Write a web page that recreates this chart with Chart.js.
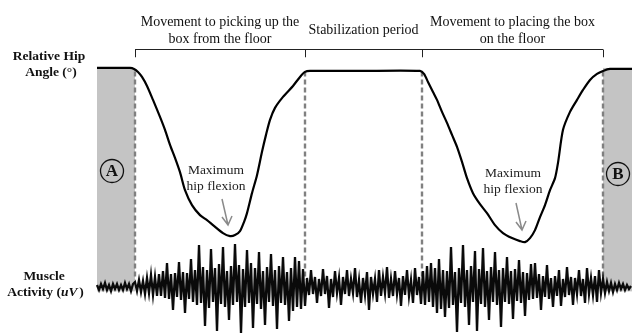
<!DOCTYPE html>
<html>
<head>
    <meta charset="utf-8" />
    <title>Hip angle and muscle activity</title>
    <script src="https://cdn.jsdelivr.net/npm/chart.js"></script>
    <style>
        html, body { margin: 0; padding: 0; background: #fff; }
        #chart { display: block; }
    </style>
</head>
<body>
    <canvas id="chart" width="632" height="333"></canvas>
    <script>
        // time axis (arbitrary units across the trial)
        const phaseBounds = [135, 305, 422, 603];
        const phaseLabels = [
            ['Movement to picking up the', 'box from the floor'],
            ['Stabilization period'],
            ['Movement to placing the box', 'on the floor']
        ];
        const shadeRanges = [[97, 135], [603, 632]];
        const shadeLetters = ['A', 'B'];

        // relative hip angle
        const hipTime = [97, 115, 130, 134, 138, 142, 147, 153, 160, 165, 170, 175, 180, 185, 192, 200, 207, 213, 223, 230,
            235, 240, 244, 247, 252, 257, 262, 266, 270, 275, 283, 293, 300, 305, 310, 360, 420,
            424, 428, 433, 437, 442, 447, 452, 457, 462, 467, 473, 480, 487, 495, 503, 512, 520, 525,
            530, 535, 540, 545, 550, 555, 558, 563, 570, 577, 583, 590, 597, 603, 610, 632];
        const hipAngle = [79.6, 79.6, 79.6, 79.3, 78.4, 76.9, 74.2, 70.0, 64.9, 61.0, 56.5, 52.6, 48.3, 42.9, 38.4, 35.4, 33.9, 32.4, 30.0, 29.1,
            29.4, 30.6, 33.3, 36.0, 42.0, 47.4, 54.4, 59.5, 64.0, 67.6, 70.9, 74.2, 76.9, 78.4, 78.7, 78.7, 78.7,
            77.8, 75.4, 72.4, 70.0, 66.4, 63.1, 59.5, 55.9, 51.4, 46.5, 42.0, 38.7, 36.0, 32.4, 30.0, 28.5, 27.6, 27.3,
            28.5, 30.9, 34.8, 38.4, 42.9, 46.5, 51.1, 61.0, 66.4, 70.0, 73.0, 76.0, 77.8, 78.7, 79.3, 79.3];

        // maximum hip flexion markers
        const flexionTime = [228, 522];
        const flexionLabelTime = [216, 513];

        // muscle activity (uV), one sample every 2 time units from emgStart
        const emgStart = 97;
        const emgStep = 2;
        const emgValues = [
            20, -30, 30, -20, 40, -30, 20, -40, 30, -20, 30, -30, 20, -30, 40, -20, 30, -40, 30,
            50, -40, 70, -50, 60, -70, 90, -60, 120, -80, 100, -90, 130,
            -90, 160, -110, 240, -120, 130, -230, 140, -100, 250, -130, 150, -260, 140, -120, 280, -150, 170,
            -180, 420, -160, 200, -390, 170, -210, 380, -150, 190, -440, 230, -170, 400, -200, 160, -330, 210, -180, 430,
            -150, 220, -460, 180, -200, 370, -160, 240, -410, 190, -170, 350, -220, 160, -380, 200, -150, 330, -190, 170,
            -420, 210, -160, 300, -180, 150, -340, 190,
            -240, 300, -200, 260, -220, 180, -190,
            90, -80, 170, -70, 100, -160, 80, -90, 180, -70, 110, -210, 80, -100, 160, -60, 90, -180, 100, -70,
            170, -90, 80, -60, 190, -100, 70, -160, 90, -80, 150, -230, 100, -70, 80, -150, 170, -90, 100, -60,
            200, -110, 80, -90, 160, -70, 90, -190, 110, -80, 170, -90, 70, -160, 190, -80, 100, -170,
            160, -180, 210, -150, 240, -200, 190, -260, 280, -220,
            170, -300, 160, -210, 400, -180, 150, -450, 190, -160, 420, -200, 170, -380, 210, -150, 360, -440, 180, -170,
            390, -200, 160, -330, 200, -150, 350, -180, 170, -400, 190, -150, 300, -170, 160, -320, 180, -140, 270, -160,
            150, -290, 140, -130, 230,
            -120, 240, -110, 130, -230, 110, -100, 220, -120, 90, -200, 110, -90, 170, -190, 80, -100, 200, -80, 100,
            -180, 90, -70, 170, -90, 80, -160, 190, -70, 90, -80, 110, -150, 170, -60,
            80, -60, 50, -40, 40, -50, 30, -30, 40, -20, 30, -30, 20, -20, 10
        ];

        const hipPoints = hipTime.map((t, i) => ({ x: t, y: hipAngle[i] }));
        const emgPoints = emgValues.map((v, i) => ({ x: emgStart + i * emgStep, y: v }));

        const SERIF = '"Liberation Serif", "Times New Roman", serif';

        // shaded rest periods and dashed phase lines, under the traces
        const backdrop = {
            id: 'backdrop',
            beforeDatasetsDraw(chart) {
                const ctx = chart.ctx;
                const x = chart.scales.x;
                const ya = chart.scales.yAngle;
                ctx.save();
                ctx.fillStyle = '#c4c4c4';
                shadeRanges.forEach(r => {
                    const x0 = x.getPixelForValue(r[0]);
                    const x1 = x.getPixelForValue(r[1]);
                    const y0 = ya.getPixelForValue(79.6);
                    const y1 = ya.getPixelForValue(12.5);
                    ctx.fillRect(x0, y0, x1 - x0, y1 - y0);
                });
                ctx.strokeStyle = '#808080';
                ctx.lineWidth = 2.4;
                ctx.setLineDash([5, 3]);
                phaseBounds.forEach(b => {
                    const px = Math.round(x.getPixelForValue(b));
                    ctx.beginPath();
                    ctx.moveTo(px, ya.getPixelForValue(78.5));
                    ctx.lineTo(px, ya.getPixelForValue(16));
                    ctx.stroke();
                });
                ctx.restore();
            }
        };

        // brackets, labels, circled letters and arrows
        const annotations = {
            id: 'annotations',
            afterDatasetsDraw(chart) {
                const ctx = chart.ctx;
                const x = chart.scales.x;
                const ya = chart.scales.yAngle;
                ctx.save();

                // phase brackets
                const by = Math.round(ya.getPixelForValue(85.3)) + 0.5;
                const tickY = ya.getPixelForValue(82.8);
                ctx.strokeStyle = '#222';
                ctx.lineWidth = 1;
                ctx.beginPath();
                ctx.moveTo(x.getPixelForValue(phaseBounds[0]), by);
                ctx.lineTo(x.getPixelForValue(phaseBounds[phaseBounds.length - 1]), by);
                phaseBounds.forEach(b => {
                    const px = Math.round(x.getPixelForValue(b)) + 0.5;
                    ctx.moveTo(px, by);
                    ctx.lineTo(px, tickY);
                });
                ctx.stroke();

                ctx.fillStyle = '#111';
                ctx.font = '14px ' + SERIF;
                ctx.textAlign = 'center';
                ctx.textBaseline = 'middle';
                phaseLabels.forEach((lines, i) => {
                    const cx = x.getPixelForValue((phaseBounds[i] + phaseBounds[i + 1]) / 2);
                    if (lines.length === 1) {
                        ctx.fillText(lines[0], cx, by - 19);
                    } else {
                        ctx.fillText(lines[0], cx, by - 27);
                        ctx.fillText(lines[1], cx, by - 10);
                    }
                });

                // axis titles on the left
                ctx.font = 'bold 13.5px ' + SERIF;
                ctx.fillText('Relative Hip', 49, 57);
                ctx.fillText('Angle (\u00B0)', 51, 73);
                ctx.fillText('Muscle', 44, 277);
                const partA = 'Activity (';
                const partB = 'u';
                const partC = 'V)';
                const wA = ctx.measureText(partA).width;
                ctx.font = 'bold italic 13.5px ' + SERIF;
                const wB = ctx.measureText(partB).width;
                ctx.font = 'bold 13.5px ' + SERIF;
                const wC = ctx.measureText(partC).width;
                let sx = 45 - (wA + wB + wC) / 2;
                ctx.textAlign = 'left';
                ctx.fillText(partA, sx, 293);
                sx += wA;
                ctx.font = 'bold italic 13.5px ' + SERIF;
                ctx.fillText(partB, sx, 293);
                ctx.fillText('V', sx + wB, 293);
                ctx.font = 'bold 13.5px ' + SERIF;
                ctx.fillText(')', sx + wB + ctx.measureText('V').width + 1, 293);

                // circled letters in the shaded periods
                const letterPos = [[112, 171], [618, 174]];
                ctx.textAlign = 'center';
                shadeLetters.forEach((letter, i) => {
                    const p = letterPos[i];
                    ctx.beginPath();
                    ctx.arc(p[0], p[1], 11.5, 0, Math.PI * 2);
                    ctx.strokeStyle = '#111';
                    ctx.lineWidth = 1.3;
                    ctx.stroke();
                    ctx.font = 'bold 17px ' + SERIF;
                    ctx.fillStyle = '#111';
                    ctx.fillText(letter, p[0], p[1] + 1);
                });

                // maximum hip flexion notes
                ctx.font = '13.5px ' + SERIF;
                ctx.fillStyle = '#222';
                const notes = [[170, 186, 199, 225], [173, 189, 203, 230]];
                flexionLabelTime.forEach((t, i) => {
                    const cx = x.getPixelForValue(t);
                    const n = notes[i];
                    ctx.fillText('Maximum', cx, n[0]);
                    ctx.fillText('hip flexion', cx, n[1]);
                    const tipX = x.getPixelForValue(flexionTime[i]);
                    const startX = tipX - 6;
                    ctx.strokeStyle = '#8a8a8a';
                    ctx.lineWidth = 1.5;
                    ctx.beginPath();
                    ctx.moveTo(startX, n[2]);
                    ctx.lineTo(tipX, n[3]);
                    ctx.moveTo(tipX - 6, n[3] - 8);
                    ctx.lineTo(tipX, n[3]);
                    ctx.lineTo(tipX + 4, n[3] - 9);
                    ctx.stroke();
                });

                ctx.restore();
            }
        };

        new Chart(document.getElementById('chart'), {
            type: 'line',
            data: {
                datasets: [
                    {
                        label: 'Relative hip angle',
                        data: hipPoints,
                        yAxisID: 'yAngle',
                        borderColor: '#000',
                        borderWidth: 2.2,
                        pointRadius: 0,
                        tension: 0.25,
                        fill: false
                    },
                    {
                        label: 'Muscle activity',
                        data: emgPoints,
                        yAxisID: 'yEmg',
                        borderColor: '#0a0a0a',
                        borderWidth: 2.3,
                        pointRadius: 0,
                        tension: 0,
                        fill: false
                    }
                ]
            },
            options: {
                responsive: false,
                devicePixelRatio: 1,
                animation: false,
                layout: { padding: 0 },
                scales: {
                    x: { type: 'linear', min: 0, max: 632, display: false },
                    yAngle: { min: 0, max: 100, display: false },
                    yEmg: { min: -460, max: 2870, display: false }
                },
                plugins: {
                    legend: { display: false },
                    tooltip: { enabled: false }
                }
            },
            plugins: [backdrop, annotations]
        });
    </script>
</body>
</html>
